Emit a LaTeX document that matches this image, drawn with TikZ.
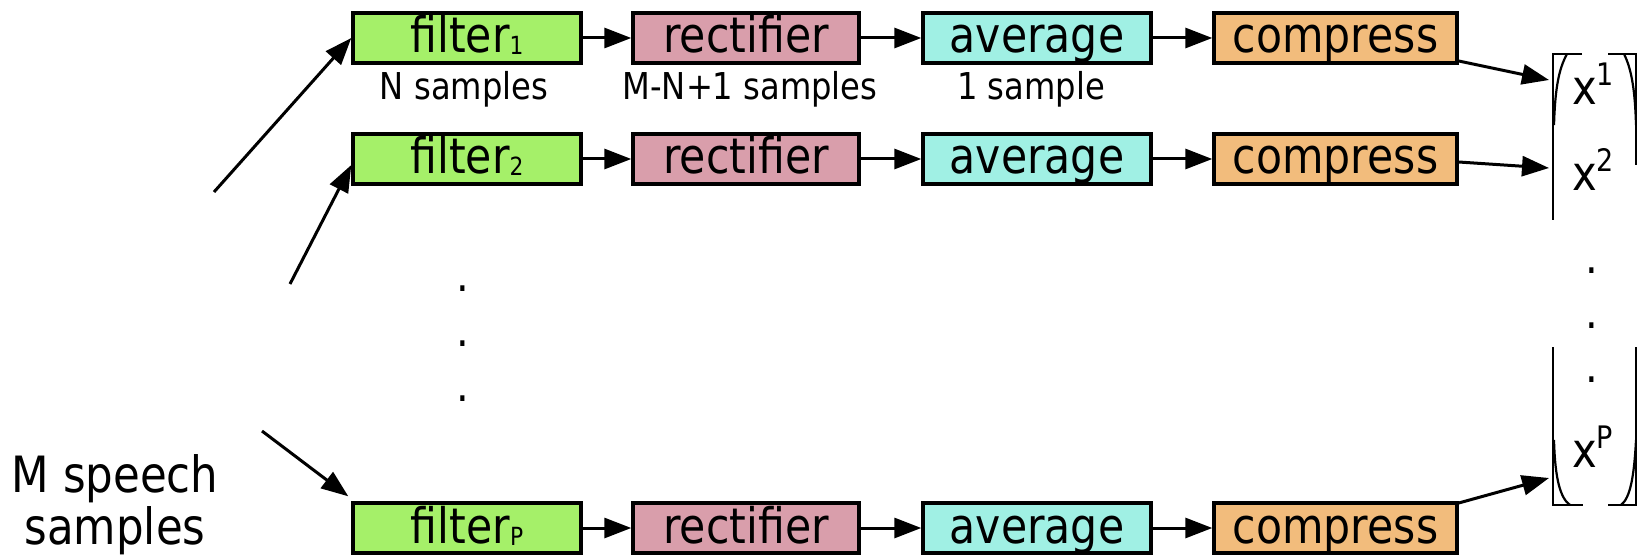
\documentclass[tikz,border=0pt]{standalone}
\usepackage{fontspec}
\setmainfont{DejaVu Sans}[FakeStretch=0.87]
\usetikzlibrary{arrows.meta,calc}
\definecolor{cfilt}{HTML}{A5F069}
\definecolor{crect}{HTML}{D99EAB}
\definecolor{cavg}{HTML}{A0F0E4}
\definecolor{ccomp}{HTML}{F2BC7C}
\newcommand{\sbs}[1]{\raisebox{-2pt}{\fontsize{25}{25}\selectfont #1}}
\newcommand{\sps}[1]{\raisebox{19pt}{\fontsize{31}{31}\selectfont #1}}
\begin{document}
\begin{tikzpicture}[x=1pt,y=-1pt,
  blk/.style={draw=black, line width=3.4pt, minimum height=50pt, inner sep=0pt,
    text height=36pt, text depth=6pt, font=\fontsize{49}{49}\selectfont},
  fbox/.style={blk, fill=cfilt, minimum width=228pt},
  rbox/.style={blk, fill=crect, minimum width=226pt},
  abox/.style={blk, fill=cavg, minimum width=228pt},
  cbox/.style={blk, fill=ccomp, minimum width=243pt},
  lbl/.style={inner sep=0pt, anchor=base, font=\fontsize{37}{37}\selectfont},
  xv/.style={inner sep=0pt, anchor=base west, font=\fontsize{48}{48}\selectfont},
  dotn/.style={inner sep=0pt, anchor=base, font=\fontsize{46}{46}\selectfont},
  arr/.style={line width=3pt, -{Triangle[length=27pt,width=20pt]}},
  brk/.style={line width=2.8pt},
  brc/.style={line width=2.2pt},
]
\useasboundingbox (0,0) rectangle (1637,556);

% row 1
\node[fbox] (f1) at (467,38) {filter\sbs{1}};
\node[rbox] (r1) at (746,38) {rectifier};
\node[abox] (a1) at (1037,38) {average};
\node[cbox] (c1) at (1335.5,38) {compress};
% row 2
\node[fbox] (f2) at (467,159) {filter\sbs{2}};
\node[rbox] (r2) at (746,159) {rectifier};
\node[abox] (a2) at (1037,159) {average};
\node[cbox] (c2) at (1335.5,159) {compress};
% row P
\node[fbox] (fP) at (467,528) {filter\sbs{P}};
\node[rbox] (rP) at (746,528) {rectifier};
\node[abox] (aP) at (1037,528) {average};
\node[cbox] (cP) at (1335.5,528) {compress};

\foreach \r in {1,2,P}{
  \draw[arr] (f\r.east) -- (r\r.west);
  \draw[arr] (r\r.east) -- (a\r.west);
  \draw[arr] (a\r.east) -- (c\r.west);
}

% labels
\node[lbl] (l1) at (464,100) {N samples};
\node[lbl] (l2) at (750,100) {M-N+1 samples};
\node[lbl] (l3) at (1031,100) {1 sample};

% vertical dots (left)
\node[dotn] (d1) at (463,291) {.};
\node[dotn] (d2) at (463,346) {.};
\node[dotn] (d3) at (463,401) {.};

% input text
\node[inner sep=0pt, align=center, font=\fontsize{50}{52}\selectfont] (src) at (115,505) {M speech\\samples};

% input arrows
\coordinate (s1) at (214,192);
\coordinate (s2) at (290,284);
\coordinate (s3) at (262,431);
\draw[arr] (s1) -- (f1.west);
\draw[arr] (s2) -- ([yshift=-6pt]f2.west);
\draw[arr] (s3) -- ([xshift=-3pt,yshift=5pt]fP.north west);

% output vector
\node[xv] (x1) at (1572,105) {x\sps{1}};
\node[xv] (x2) at (1572,190) {x\sps{2}};
\node[xv] (xP) at (1572,467) {x\sps{P}};
\node[dotn] (e1) at (1592,273) {.};
\node[dotn] (e2) at (1592,328) {.};
\node[dotn] (e3) at (1592,382) {.};

% bracket
\draw[brk] (1582,54) -- (1553,54) -- (1553,220);
\draw[brc] (1567,54) .. controls (1558,70) and (1555,92) .. (1554,125);
\draw[brk] (1608,54) -- (1636,54) -- (1636,165);
\draw[brc] (1624,54) .. controls (1632,70) and (1635,92) .. (1636,125);
\draw[brk] (1553,347) -- (1553,505) -- (1583,505);
\draw[brc] (1554,440) .. controls (1555,478) and (1560,498) .. (1570,505);
\draw[brk] (1636,347) -- (1636,505) -- (1608,505);
\draw[brc] (1636,440) .. controls (1634,478) and (1630,498) .. (1621,505);

% output arrows
\coordinate (v1) at (1549,80);
\coordinate (v2) at (1549,168);
\coordinate (vP) at (1549,478);
\draw[arr] ([yshift=-23pt]c1.east) -- (v1);
\draw[arr] ([yshift=-3pt]c2.east) -- (v2);
\draw[arr] ([yshift=25pt]cP.east) -- (vP);
\end{tikzpicture}
\end{document}
